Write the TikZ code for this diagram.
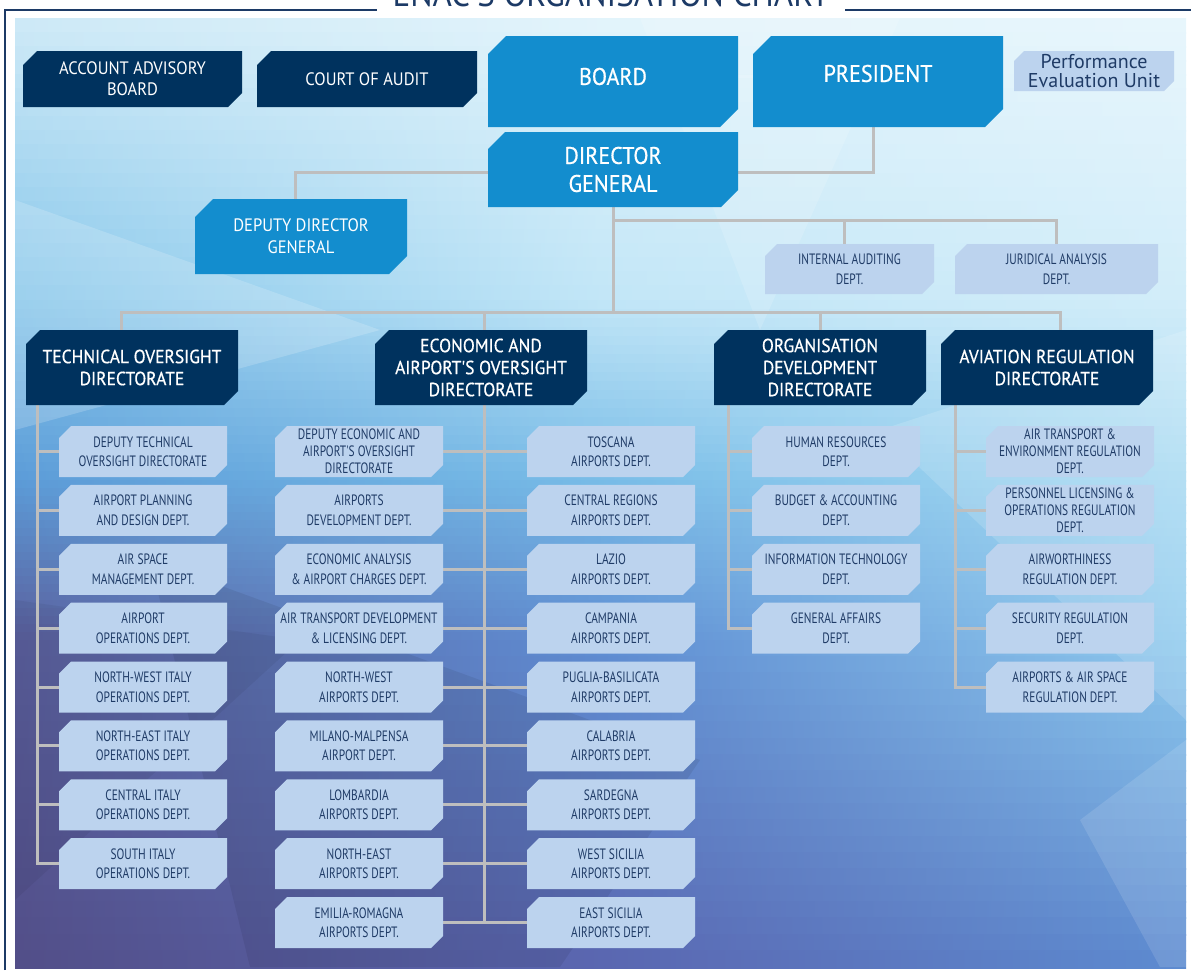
\documentclass[tikz,border=0pt]{standalone}
\usepackage{fontspec}
\setmainfont{PT Sans}
\newfontfamily\mainf[FakeStretch=0.92]{PT Sans}
\newfontfamily\dirf[FakeStretch=0.92,FakeBold=0.6]{PT Sans}
\newfontfamily\condf[FakeStretch=0.76]{PT Sans}

\definecolor{navy}{HTML}{00325E}
\definecolor{skyblue}{HTML}{138DCE}
\definecolor{pale}{HTML}{BCD3EE}
\definecolor{inktext}{HTML}{1F3B66}
\definecolor{linegray}{HTML}{BEBEBE}
\definecolor{paleline}{HTML}{E6F4FB}
\definecolor{framecol}{HTML}{1C3A66}
% backdrop colours: left / middle / right at five heights
\definecolor{LA}{HTML}{CFEAF7}\definecolor{MA}{HTML}{E3F4FB}\definecolor{RA}{HTML}{E8F6FC}
\definecolor{LB}{HTML}{86C6EA}\definecolor{MB}{HTML}{C2E6F7}\definecolor{RB}{HTML}{D2EDF9}
\definecolor{LC}{HTML}{5C9CD8}\definecolor{MC}{HTML}{78BCE7}\definecolor{RC}{HTML}{A8DAF2}
\definecolor{LD}{HTML}{5A5E9C}\definecolor{MD}{HTML}{5F8ED3}\definecolor{RD}{HTML}{90CBEE}
\definecolor{LE}{HTML}{524E88}\definecolor{ME}{HTML}{5A66B0}\definecolor{RE}{HTML}{5C8AD0}

\pgfdeclarelayer{backdrop}
\pgfdeclarelayer{links}
\pgfsetlayers{backdrop,links,main}

% one band of the backdrop: strips blended between two colour rows
\newcommand\backband[8]{% y-top, y-bottom, L1, M1, R1, L2, M2, R2
  \foreach \k in {0,...,19}{
    \pgfmathsetmacro\ya{#1+(#2-#1)*\k/20}
    \pgfmathsetmacro\yb{#1+(#2-#1)*(\k+1)/20+1}
    \pgfmathtruncatemacro\p{100-100*(\k+0.5)/20}
    \fill[left color={#3!\p!#6}, right color={#5!\p!#8}, middle color={#4!\p!#7}]
      (15,\ya) rectangle (1186,\yb);
  }}

\tikzset{
  conn/.style={draw=linegray, line width=3pt},
  chamf/.style 2 args={path picture={
    \fill[#1] ([xshift=#2]path picture bounding box.north west)
      -- (path picture bounding box.north east)
      -- ([yshift=#2]path picture bounding box.south east)
      -- ([xshift=-#2]path picture bounding box.south east)
      -- (path picture bounding box.south west)
      -- ([yshift=-#2]path picture bounding box.north west) -- cycle;}},
  boxbase/.style={anchor=north west, inner sep=0pt, outer sep=0pt, align=center},
  navybox/.style={boxbase, chamf={navy}{14pt}, text=white,
    font=\mainf\fontsize{18}{21}\selectfont},
  bigbox/.style={boxbase, chamf={skyblue}{18pt}, text=white,
    font=\dirf\fontsize{24}{28}\selectfont},
  dirbox/.style={boxbase, chamf={navy}{14pt}, text=white,
    minimum width=212pt, minimum height=75pt,
    font=\dirf\fontsize{19}{22}\selectfont},
  sub/.style={boxbase, chamf={pale}{12pt}, text=inktext,
    minimum width=168pt, minimum height=51pt,
    font=\condf\fontsize{15}{19.5}\selectfont},
  subthree/.style={sub, font=\condf\fontsize{15}{17}\selectfont},
}

\begin{document}
\begin{tikzpicture}[x=1pt, y=-1pt]
\useasboundingbox (0,0) rectangle (1191,970);

% backdrop: blue gradient darkening to violet towards the lower left
\begin{pgfonlayer}{backdrop}
\backband{18}{300}{LA}{MA}{RA}{LB}{MB}{RB}
\backband{300}{480}{LB}{MB}{RB}{LC}{MC}{RC}
\backband{480}{640}{LC}{MC}{RC}{LD}{MD}{RD}
\backband{640}{967}{LD}{MD}{RD}{LE}{ME}{RE}
\fill[white, fill opacity=0.18] (15,200) -- (380,330) -- (15,430) -- cycle;
\fill[white, fill opacity=0.15] (640,18) -- (900,18) -- (760,330) -- cycle;
\fill[white, fill opacity=0.15] (880,430) -- (1186,330) -- (1186,720) -- cycle;
\fill[white, fill opacity=0.12] (1080,820) -- (1186,740) -- (1186,967) -- (1160,967) -- cycle;
\fill[black, fill opacity=0.07] (150,560) -- (700,760) -- (560,967) -- (250,967) -- cycle;
\fill[black, fill opacity=0.05] (15,600) -- (300,640) -- (15,900) -- cycle;
\end{pgfonlayer}

% frame and title
\draw[framecol, line width=1.5pt] (5,970) -- (5,10) -- (377,10);
\draw[framecol, line width=1.5pt] (845,10) -- (1191,10);
\node[font=\mainf\fontsize{36}{36}\selectfont, text=framecol, anchor=base] (title) at (611,6) {ENAC'S ORGANISATION CHART};

% top level
\node[navybox, minimum width=219pt, minimum height=56pt] (aab) at (23,51) {ACCOUNT ADVISORY\\BOARD};
\node[navybox, minimum width=220pt, minimum height=56pt] (coa) at (257,51) {COURT OF AUDIT};
\node[bigbox, minimum width=250pt, minimum height=91pt] (board) at (488,36) {\raisebox{5pt}[\height][\depth]{BOARD}};
\node[bigbox, minimum width=250pt, minimum height=91pt] (pres) at (753,36) {\raisebox{8pt}[\height][\depth]{PRESIDENT}};
\node[boxbase, chamf={pale}{10pt}, text=inktext, minimum width=160pt, minimum height=40pt,
  font=\fontsize{20}{18.5}\selectfont] (peu) at (1014,51) {Performance\\Evaluation Unit};
\node[bigbox, chamf={skyblue}{17pt}, minimum width=250pt, minimum height=75pt] (dg) at (488,132) {DIRECTOR\\GENERAL};
\node[bigbox, font=\mainf\fontsize{18}{22}\selectfont, minimum width=212pt, minimum height=75pt] (ddg) at (195,199) {DEPUTY DIRECTOR\\GENERAL};
\node[sub, minimum width=169pt, minimum height=50pt] (iad) at (765,244) {INTERNAL AUDITING\\DEPT.};
\node[sub, minimum width=203pt, minimum height=50pt] (jad) at (955,244) {JURIDICAL ANALYSIS\\DEPT.};

% directorates
\node[dirbox] (tod) at (26,330) {TECHNICAL OVERSIGHT\\DIRECTORATE};
\node[dirbox] (eao) at (375,330) {ECONOMIC AND\\AIRPORT'S OVERSIGHT\\DIRECTORATE};
\node[dirbox] (odd) at (714,330) {ORGANISATION\\DEVELOPMENT\\DIRECTORATE};
\node[dirbox] (ard) at (941,330) {AVIATION REGULATION\\DIRECTORATE};

% technical oversight departments
\node[sub] (t0) at (59,426) {DEPUTY TECHNICAL\\OVERSIGHT DIRECTORATE};
\node[sub] (t1) at (59,484.9) {AIRPORT PLANNING\\AND DESIGN DEPT.};
\node[sub] (t2) at (59,543.8) {AIR SPACE\\MANAGEMENT DEPT.};
\node[sub] (t3) at (59,602.6) {AIRPORT\\OPERATIONS DEPT.};
\node[sub] (t4) at (59,661.5) {NORTH-WEST ITALY\\OPERATIONS DEPT.};
\node[sub] (t5) at (59,720.4) {NORTH-EAST ITALY\\OPERATIONS DEPT.};
\node[sub] (t6) at (59,779.3) {CENTRAL ITALY\\OPERATIONS DEPT.};
\node[sub] (t7) at (59,838.1) {SOUTH ITALY\\OPERATIONS DEPT.};

% economic and airport's oversight departments
\node[subthree] (el0) at (275,426) {DEPUTY ECONOMIC AND\\AIRPORT'S OVERSIGHT\\DIRECTORATE};
\node[sub] (el1) at (275,484.9) {AIRPORTS\\DEVELOPMENT DEPT.};
\node[sub] (el2) at (275,543.8) {ECONOMIC ANALYSIS\\\& AIRPORT CHARGES DEPT.};
\node[sub] (el3) at (275,602.6) {AIR TRANSPORT DEVELOPMENT\\\& LICENSING DEPT.};
\node[sub] (el4) at (275,661.5) {NORTH-WEST\\AIRPORTS DEPT.};
\node[sub] (el5) at (275,720.4) {MILANO-MALPENSA\\AIRPORT DEPT.};
\node[sub] (el6) at (275,779.3) {LOMBARDIA\\AIRPORTS DEPT.};
\node[sub] (el7) at (275,838.1) {NORTH-EAST\\AIRPORTS DEPT.};
\node[sub] (el8) at (275,897) {EMILIA-ROMAGNA\\AIRPORTS DEPT.};
\node[sub] (er0) at (527,426) {TOSCANA\\AIRPORTS DEPT.};
\node[sub] (er1) at (527,484.9) {CENTRAL REGIONS\\AIRPORTS DEPT.};
\node[sub] (er2) at (527,543.8) {LAZIO\\AIRPORTS DEPT.};
\node[sub] (er3) at (527,602.6) {CAMPANIA\\AIRPORTS DEPT.};
\node[sub] (er4) at (527,661.5) {PUGLIA-BASILICATA\\AIRPORTS DEPT.};
\node[sub] (er5) at (527,720.4) {CALABRIA\\AIRPORTS DEPT.};
\node[sub] (er6) at (527,779.3) {SARDEGNA\\AIRPORTS DEPT.};
\node[sub] (er7) at (527,838.1) {WEST SICILIA\\AIRPORTS DEPT.};
\node[sub] (er8) at (527,897) {EAST SICILIA\\AIRPORTS DEPT.};

% organisation development departments
\node[sub] (o0) at (752,426) {HUMAN RESOURCES\\DEPT.};
\node[sub] (o1) at (752,484.9) {BUDGET \& ACCOUNTING\\DEPT.};
\node[sub] (o2) at (752,543.8) {INFORMATION TECHNOLOGY\\DEPT.};
\node[sub] (o3) at (752,602.6) {GENERAL AFFAIRS\\DEPT.};

% aviation regulation departments
\node[subthree] (a0) at (986,426) {AIR TRANSPORT \&\\ENVIRONMENT REGULATION\\DEPT.};
\node[subthree] (a1) at (986,484.9) {PERSONNEL LICENSING \&\\OPERATIONS REGULATION\\DEPT.};
\node[sub] (a2) at (986,543.8) {AIRWORTHINESS\\REGULATION DEPT.};
\node[sub] (a3) at (986,602.6) {SECURITY REGULATION\\DEPT.};
\node[sub] (a4) at (986,661.5) {AIRPORTS \& AIR SPACE\\REGULATION DEPT.};

% connectors, kept behind the boxes
\begin{pgfonlayer}{links}
\draw[conn, draw=paleline] ([yshift=5pt]board.east) -- ([yshift=5pt]pres.west);
\coordinate (ptail) at ([xshift=-5pt]pres.south);
\draw[conn] (ptail) |- ([yshift=-2.5pt]dg.east);
\coordinate (dtop) at ([xshift=-6pt]ddg.north);
\draw[conn] ([yshift=-2.5pt]dg.west) -| (dtop);
\coordinate (staffbus) at ([yshift=-13pt]dg.south);
\coordinate (dirbus) at ([yshift=-105pt]dg.south);
\draw[conn] (dg.south) -- (dirbus);
\draw[conn] (staffbus) -| (jad.north);
\coordinate (itop) at ([xshift=-5pt]iad.north);
\draw[conn] (itop) -- (itop |- staffbus);
\coordinate (ttop) at ([xshift=-11pt]tod.north);
\coordinate (atop) at ([xshift=13pt]ard.north);
\draw[conn] (ttop) |- (dirbus) -| (atop);
\coordinate (etop) at ([xshift=3pt]eao.north);
\draw[conn] (etop) -- (etop |- dirbus);
\draw[conn] (odd.north) -- (odd.north |- dirbus);
\coordinate (tspine) at ([xshift=-95pt]tod.south);
\draw[conn] (tspine) |- (t7.west);
\foreach \i in {0,...,6} \draw[conn] (t\i.west) -- (tspine |- t\i.west);
\coordinate (espine) at ([xshift=3pt]eao.south);
\draw[conn] (espine) -- (espine |- el8.east);
\foreach \i in {0,...,8} \draw[conn] (el\i.east) -- (er\i.west);
\coordinate (ospine) at ([xshift=-92pt]odd.south);
\draw[conn] (ospine) |- (o3.west);
\foreach \i in {0,...,2} \draw[conn] (o\i.west) -- (ospine |- o\i.west);
\coordinate (aspine) at ([xshift=-92pt]ard.south);
\draw[conn] (aspine) |- (a4.west);
\foreach \i in {0,...,3} \draw[conn] (a\i.west) -- (aspine |- a\i.west);
\end{pgfonlayer}
\end{tikzpicture}
\end{document}
